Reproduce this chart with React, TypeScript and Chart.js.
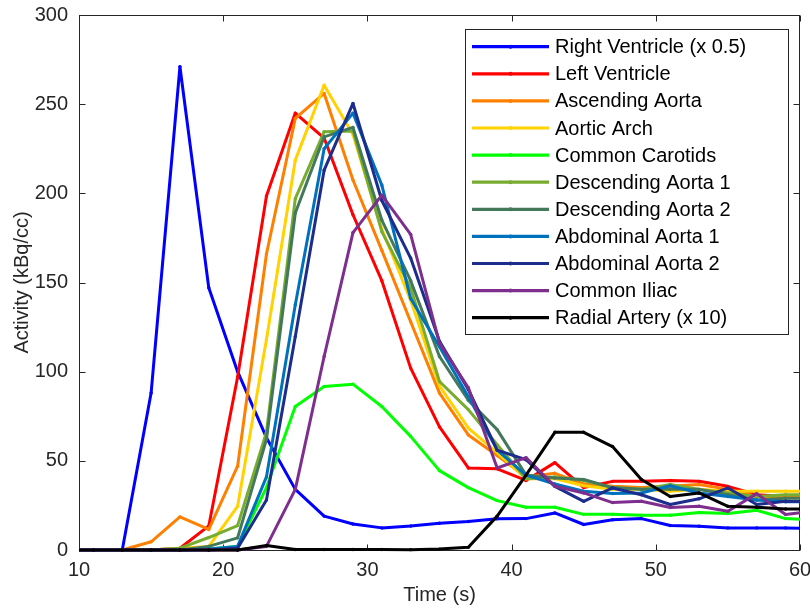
import React, { useEffect, useRef } from "react";
import { Chart, registerables } from "chart.js";

Chart.register(...registerables);

// ---- data (time in seconds, activity in kBq/cc) ----
const times = [9, 11, 13, 15, 17, 19, 21, 23, 25, 27, 29, 31, 33, 35, 37, 39, 41, 43, 45, 47, 49, 51, 53, 55, 57, 59, 61];

const rightVentricle = [0, 0, 0, 88, 271, 147, 100, 63, 34, 19, 14.6, 12.4, 13.5, 15, 16, 17.5, 17.6, 20.8, 14.3, 17, 17.6, 13.7, 13.3, 12.4, 12.4, 12.4, 12];
const leftVentricle = [0, 0, 0, 0, 1, 13.5, 97, 198.5, 245, 231, 188, 151, 102, 69, 46, 45.5, 39, 49, 35, 38.5, 38.5, 39, 38.5, 35.7, 31, 30, 30];
const ascendingAorta = [0, 0, 0, 4.6, 18.6, 11.5, 47, 166, 242, 256, 207.5, 168, 128, 88, 64.5, 53, 41, 43, 37, 35.7, 35, 35.7, 36.7, 34, 30, 30, 30];
const aorticArch = [0, 0, 0, 0, 1, 2, 24.5, 118, 218.6, 260.6, 233, 180, 140, 92, 68.4, 54.6, 40, 40, 36, 34, 34, 33, 34, 33, 33, 33, 33];
const commonCarotids = [0, 0, 0, 0, 0, 0.5, 2, 35, 80.5, 91.7, 93, 80.5, 63.7, 44.5, 35, 27.7, 24, 24, 20, 20, 19.5, 19.5, 21, 20.5, 22.3, 17.6, 17];
const descendingAorta1 = [0, 0, 0, 0, 1, 7, 13.7, 66, 197, 234.5, 235, 178.5, 147, 94.5, 78.7, 59, 40, 41, 39, 35, 34, 36.7, 34, 32, 30, 31, 31];
const descendingAorta2 = [0, 0, 0, 0, 0, 2, 6.8, 62, 189, 231.7, 237, 185, 151, 108.5, 84, 67.5, 42, 40.4, 39.5, 35, 34, 34, 34, 31, 28, 29, 29];
const abdominalAorta1 = [0, 0, 0, 0, 0, 0.5, 2, 41, 137.5, 225, 245, 204.6, 141, 114, 86, 56, 42, 37, 33, 31.7, 32, 36, 32, 30, 28, 27, 27];
const abdominalAorta2 = [0, 0, 0, 0, 0, 0, 1, 28, 119.7, 213, 250.4, 196, 163.7, 117, 90, 56, 50.6, 35.7, 27.3, 34.8, 31, 25.5, 28.7, 34.8, 25.5, 27.3, 27];
const commonIliac = [0, 0, 0, 0, 0, 0, 0, 2, 34, 108.5, 178, 199, 177, 116, 91, 46, 51.8, 35.7, 32, 26.6, 27.3, 23.8, 24.5, 21.7, 31.6, 19.9, 22];
const radialArtery = [0, 0, 0, 0, 0, 0, 0, 2.5, 0.3, 0.3, 0.3, 0.3, 0.2, 0.5, 1.5, 19, 42, 66, 66, 58, 39.5, 30, 32, 24.5, 24, 23, 23];

const seriesLabels = [
  "Right Ventricle (x 0.5)",
  "Left Ventricle",
  "Ascending Aorta",
  "Aortic Arch",
  "Common Carotids",
  "Descending Aorta 1",
  "Descending Aorta 2",
  "Abdominal Aorta 1",
  "Abdominal Aorta 2",
  "Common Iliac",
  "Radial Artery (x 10)",
];
const seriesValues = [
  rightVentricle,
  leftVentricle,
  ascendingAorta,
  aorticArch,
  commonCarotids,
  descendingAorta1,
  descendingAorta2,
  abdominalAorta1,
  abdominalAorta2,
  commonIliac,
  radialArtery,
];
const seriesColors = [
  "#0000ff",
  "#ff0000",
  "#ff8000",
  "#ffd200",
  "#00ff00",
  "#77ac30",
  "#43785a",
  "#0072bd",
  "#1c2d8c",
  "#7e2f8e",
  "#000000",
];

const xTicks = [10, 20, 30, 40, 50, 60];
const yTicks = [0, 50, 100, 150, 200, 250, 300];

const AXIS = "#262626";
const FONT = "'Liberation Sans', Arial, Helvetica, sans-serif";

const framePlugin = {
  id: "frame",
  beforeDatasetsDraw(chart: any) {
    const { ctx, chartArea: a, scales } = chart;
    const L = Math.round(a.left) + 0.5;
    const R = Math.round(a.right) - 0.5;
    const T = Math.round(a.top) + 0.5;
    const B = Math.round(a.bottom) + 0.5;
    ctx.save();
    ctx.strokeStyle = AXIS;
    ctx.lineWidth = 1;
    ctx.strokeRect(L, T, R - L, B - T);
    const len = 6;
    ctx.beginPath();
    xTicks.forEach((v) => {
      const px = Math.round(scales.x.getPixelForValue(v)) + 0.5;
      ctx.moveTo(px, B);
      ctx.lineTo(px, B - len);
      ctx.moveTo(px, T);
      ctx.lineTo(px, T + len);
    });
    yTicks.forEach((v) => {
      const py = Math.round(scales.y.getPixelForValue(v)) + 0.5;
      ctx.moveTo(L, py);
      ctx.lineTo(L + len, py);
      ctx.moveTo(R, py);
      ctx.lineTo(R - len, py);
    });
    ctx.stroke();
    ctx.restore();
  },
};

const legendPlugin = {
  id: "insideLegend",
  afterDatasetsDraw(chart: any) {
    const { ctx, chartArea: a } = chart;
    const right = Math.round(a.right) - 12;
    const top = Math.round(a.top) + 14;
    const width = 323;
    const height = 305;
    const left = right - width;
    ctx.save();
    ctx.fillStyle = "#ffffff";
    ctx.fillRect(left, top, width, height);
    ctx.strokeStyle = AXIS;
    ctx.lineWidth = 1;
    ctx.strokeRect(left + 0.5, top + 0.5, width, height);
    ctx.font = `20px ${FONT}`;
    ctx.textBaseline = "middle";
    ctx.textAlign = "left";
    chart.data.datasets.forEach((ds: any, i: number) => {
      const y = top + 17.7 + i * 27.1;
      ctx.strokeStyle = ds.borderColor;
      ctx.lineWidth = 3.2;
      ctx.beginPath();
      ctx.moveTo(left + 7, y);
      ctx.lineTo(left + 84, y);
      ctx.stroke();
      ctx.fillStyle = ds.borderColor;
      ctx.beginPath();
      ctx.arc(left + 45.5, y, 2, 0, Math.PI * 2);
      ctx.fill();
      ctx.fillStyle = "#000000";
      ctx.fillText(ds.label, left + 90, y + 1);
    });
    ctx.restore();
  },
};

export default function App() {
  const canvasRef = useRef<HTMLCanvasElement | null>(null);

  useEffect(() => {
    const canvas = canvasRef.current;
    if (!canvas) return;
    const n = seriesValues.length;
    const datasets = seriesValues.map((vals, i) => ({
      label: seriesLabels[i],
      data: vals.map((v, j) => ({ x: times[j], y: v })),
      borderColor: seriesColors[i],
      backgroundColor: seriesColors[i],
      pointBackgroundColor: seriesColors[i],
      pointBorderWidth: 0,
      pointRadius: 1.7,
      pointHoverRadius: 0,
      borderWidth: 3,
      borderJoinStyle: "round",
      borderCapStyle: "round",
      tension: 0,
      fill: false,
      order: n - i,
      clip: { left: 0, right: 0, top: 4, bottom: 4 },
    }));

    const chart = new Chart(canvas, {
      type: "line",
      data: { datasets },
      options: {
        responsive: false,
        animation: false,
        events: [],
        layout: { padding: { top: 15, right: 10, left: 0, bottom: 0 } },
        plugins: {
          legend: { display: false },
          tooltip: { enabled: false },
        },
        scales: {
          x: {
            type: "linear",
            min: 10,
            max: 60,
            afterBuildTicks: (s: any) => {
              s.ticks = xTicks.map((v) => ({ value: v }));
            },
            ticks: {
              font: { family: FONT, size: 20 },
              color: AXIS,
              padding: 8,
              maxRotation: 0,
              autoSkip: false,
            },
            grid: { display: false, drawTicks: false },
            border: { display: false },
            title: {
              display: true,
              text: "Time (s)",
              font: { family: FONT, size: 20 },
              color: AXIS,
              padding: { top: 0, bottom: 1 },
            },
            afterFit: (s: any) => {
              s.height = 58;
              s.paddingLeft = 0;
              s.paddingRight = 0;
            },
          },
          y: {
            type: "linear",
            min: 0,
            max: 300,
            afterBuildTicks: (s: any) => {
              s.ticks = yTicks.map((v) => ({ value: v }));
            },
            ticks: {
              font: { family: FONT, size: 20 },
              color: AXIS,
              padding: 11,
              autoSkip: false,
            },
            grid: { display: false, drawTicks: false },
            border: { display: false },
            title: {
              display: true,
              text: "Activity (kBq/cc)",
              font: { family: FONT, size: 20 },
              color: AXIS,
              padding: { top: 10, bottom: 0 },
            },
            afterFit: (s: any) => {
              s.width = 79;
              s.paddingTop = 0;
              s.paddingBottom = 0;
            },
          },
        },
      } as any,
      plugins: [framePlugin, legendPlugin],
    });
    return () => chart.destroy();
  }, []);

  return (
    <div style={{ position: "absolute", left: 0, top: 0, width: 810, height: 608, background: "#ffffff" }}>
      <canvas ref={canvasRef} width={810} height={608} style={{ display: "block", width: 810, height: 608 }} />
    </div>
  );
}
